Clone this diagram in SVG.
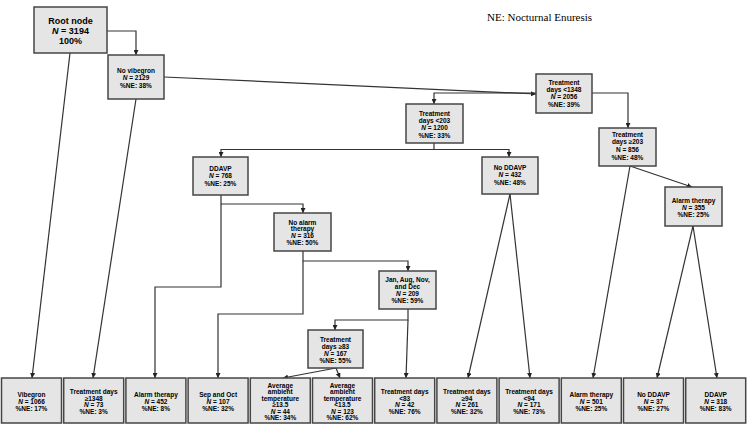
<svg xmlns="http://www.w3.org/2000/svg" width="750" height="425" viewBox="0 0 750 425">
<style>
.box{fill:#e5e5e5;stroke:#454545;stroke-width:1.5}
.t{font-family:"Liberation Sans",Arial,sans-serif;font-weight:bold;font-size:6.5px;text-anchor:middle;fill:#000}
.big{font-size:9px}
.c{fill:none;stroke:#333;stroke-width:1.2}
.i{font-style:italic}
.leg{font-family:"Liberation Serif","Times New Roman",serif;font-size:11px;fill:#000}
</style>
<defs>
<marker id="ah" viewBox="0 0 10 10" refX="10" refY="5" markerWidth="5" markerHeight="5" markerUnits="userSpaceOnUse" orient="auto"><path d="M0,0 L10,5 L0,10 z" fill="#222"/></marker>
</defs>
<rect width="750" height="425" fill="#fff"/>
<text class="leg" x="487" y="21">NE: Nocturnal Enuresis</text>

<g id="connectors" class="c" marker-end="url(#ah)">
<path class="c" marker-end="url(#ah)" d="M107,31 H136 V55"/>
<path class="c" marker-end="url(#ah)" d="M70,53 L32,378"/>
<path class="c" marker-end="url(#ah)" d="M136,99 L93,378"/>
<path class="c" marker-end="url(#ah)" d="M164,77 L536,94"/>
<path class="c" marker-end="url(#ah)" d="M536,93 H434 V104"/>
<path class="c" marker-end="url(#ah)" d="M592,93 H628 V128"/>
<path class="c" marker-end="url(#ah)" d="M434,143 V149.5 H221 V157"/>
<path class="c" marker-end="url(#ah)" d="M434,149.5 H509 V157"/>
<path class="c" marker-end="url(#ah)" d="M221,195 V204 H303 V213"/>
<path class="c" marker-end="url(#ah)" d="M221,204 V287 H155 V378"/>
<path class="c" marker-end="url(#ah)" d="M303,251 V261 H408 V271"/>
<path class="c" marker-end="url(#ah)" d="M303,261 V314 H218 V378"/>
<path class="c" marker-end="url(#ah)" d="M408,309 V320 H335 V330"/>
<path class="c" marker-end="url(#ah)" d="M408,320 L406,378"/>
<path class="c" marker-end="url(#ah)" d="M336,368 L283,378"/>
<path class="c" marker-end="url(#ah)" d="M336,368 L340,378"/>
<path class="c" marker-end="url(#ah)" d="M510,194 L468,378"/>
<path class="c" marker-end="url(#ah)" d="M510,194 L530,378"/>
<path class="c" marker-end="url(#ah)" d="M630,166 L692,187"/>
<path class="c" marker-end="url(#ah)" d="M630,166 L593,378"/>
<path class="c" marker-end="url(#ah)" d="M693,226 L657,378"/>
<path class="c" marker-end="url(#ah)" d="M693,226 L717,378"/>
</g>

<g id="root"><rect class="box" x="34" y="7" width="73" height="46"/>
<text class="t big" x="70.5" y="24">Root node</text>
<text class="t big" x="70.5" y="34"><tspan class="i">N</tspan> = 3194</text>
<text class="t big" x="70.5" y="43.5">100%</text></g>

<g id="no-vibegron"><rect class="box" x="108" y="55" width="56" height="44"/>
<text class="t" x="136" y="72.5">No vibegron</text>
<text class="t" x="136" y="80"><tspan class="i">N</tspan> = 2129</text>
<text class="t" x="136" y="87.5">%NE: 38%</text></g>

<g id="td-lt1348"><rect class="box" x="536" y="74" width="56" height="39"/>
<text class="t" x="564" y="84.5">Treatment</text>
<text class="t" x="564" y="91.5">days &lt;1348</text>
<text class="t" x="564" y="99"><tspan class="i">N</tspan> = 2056</text>
<text class="t" x="564" y="106.5">%NE: 39%</text></g>

<g id="td-lt203"><rect class="box" x="406" y="104" width="57" height="39"/>
<text class="t" x="434.5" y="115.5">Treatment</text>
<text class="t" x="434.5" y="122.5">days &lt;203</text>
<text class="t" x="434.5" y="130"><tspan class="i">N</tspan> = 1200</text>
<text class="t" x="434.5" y="137.5">%NE: 33%</text></g>

<g id="td-ge203"><rect class="box" x="599" y="128" width="57" height="38"/>
<text class="t" x="627.5" y="136.5">Treatment</text>
<text class="t" x="627.5" y="144">days ≥203</text>
<text class="t" x="627.5" y="151.5">N = 856</text>
<text class="t" x="627.5" y="159.5">%NE: 48%</text></g>

<g id="ddavp768"><rect class="box" x="193" y="157" width="55" height="38"/>
<text class="t" x="220.5" y="170.5">DDAVP</text>
<text class="t" x="220.5" y="178"><tspan class="i">N</tspan> = 768</text>
<text class="t" x="220.5" y="185.5">%NE: 25%</text></g>

<g id="noddavp432"><rect class="box" x="482" y="157" width="56" height="37"/>
<text class="t" x="510" y="169.5">No DDAVP</text>
<text class="t" x="510" y="177"><tspan class="i">N</tspan> = 432</text>
<text class="t" x="510" y="184.5">%NE: 48%</text></g>

<g id="noalarm316"><rect class="box" x="274" y="213" width="57" height="38"/>
<text class="t" x="302.5" y="224.5">No alarm</text>
<text class="t" x="302.5" y="231">therapy</text>
<text class="t" x="302.5" y="238"><tspan class="i">N</tspan> = 316</text>
<text class="t" x="302.5" y="245">%NE: 50%</text></g>

<g id="alarm355"><rect class="box" x="665" y="187" width="57" height="39"/>
<text class="t" x="693.5" y="202.5">Alarm therapy</text>
<text class="t" x="693.5" y="209.5"><tspan class="i">N</tspan> = 355</text>
<text class="t" x="693.5" y="217">%NE: 25%</text></g>

<g id="months209"><rect class="box" x="379" y="271" width="57" height="38"/>
<text class="t" x="407.5" y="281.5">Jan, Aug, Nov,</text>
<text class="t" x="407.5" y="288.5">and Dec</text>
<text class="t" x="407.5" y="295.5"><tspan class="i">N</tspan> = 209</text>
<text class="t" x="407.5" y="303">%NE: 59%</text></g>

<g id="td-ge83"><rect class="box" x="308" y="330" width="55" height="38"/>
<text class="t" x="335.5" y="341.5">Treatment</text>
<text class="t" x="335.5" y="348.5">days ≥83</text>
<text class="t" x="335.5" y="355.5"><tspan class="i">N</tspan> = 167</text>
<text class="t" x="335.5" y="363">%NE: 55%</text></g>

<g id="leaf1"><rect class="box" x="1.5" y="378" width="60" height="45"/>
<text class="t" x="31.5" y="397">Vibegron</text>
<text class="t" x="31.5" y="404"><tspan class="i">N</tspan> = 1066</text>
<text class="t" x="31.5" y="411">%NE: 17%</text></g>

<g id="leaf2"><rect class="box" x="63.7" y="378" width="60" height="45"/>
<text class="t" x="93.7" y="394">Treatment days</text>
<text class="t" x="93.7" y="400.5">≥1348</text>
<text class="t" x="93.7" y="407"><tspan class="i">N</tspan> = 73</text>
<text class="t" x="93.7" y="413.5">%NE: 3%</text></g>

<g id="leaf3"><rect class="box" x="125.9" y="378" width="60" height="45"/>
<text class="t" x="155.9" y="397">Alarm therapy</text>
<text class="t" x="155.9" y="404"><tspan class="i">N</tspan> = 452</text>
<text class="t" x="155.9" y="411">%NE: 8%</text></g>

<g id="leaf4"><rect class="box" x="188.1" y="378" width="60" height="45"/>
<text class="t" x="218.1" y="397">Sep and Oct</text>
<text class="t" x="218.1" y="404"><tspan class="i">N</tspan> = 107</text>
<text class="t" x="218.1" y="411">%NE: 32%</text></g>

<g id="leaf5"><rect class="box" x="250.3" y="378" width="60" height="45"/>
<text class="t" x="280.3" y="387.5">Average</text>
<text class="t" x="280.3" y="394">ambient</text>
<text class="t" x="280.3" y="400.5">temperature</text>
<text class="t" x="280.3" y="407">≥13.5</text>
<text class="t" x="280.3" y="413.5"><tspan class="i">N</tspan> = 44</text>
<text class="t" x="280.3" y="420">%NE: 34%</text></g>

<g id="leaf6"><rect class="box" x="312.5" y="378" width="60" height="45"/>
<text class="t" x="342.5" y="387.5">Average</text>
<text class="t" x="342.5" y="394">ambient</text>
<text class="t" x="342.5" y="400.5">temperature</text>
<text class="t" x="342.5" y="407">&lt;13.5</text>
<text class="t" x="342.5" y="413.5"><tspan class="i">N</tspan> = 123</text>
<text class="t" x="342.5" y="420">%NE: 62%</text></g>

<g id="leaf7"><rect class="box" x="374.7" y="378" width="60" height="45"/>
<text class="t" x="404.7" y="394">Treatment days</text>
<text class="t" x="404.7" y="400.5">&lt;83</text>
<text class="t" x="404.7" y="407"><tspan class="i">N</tspan> = 42</text>
<text class="t" x="404.7" y="413.5">%NE: 76%</text></g>

<g id="leaf8"><rect class="box" x="436.9" y="378" width="60" height="45"/>
<text class="t" x="466.9" y="394">Treatment days</text>
<text class="t" x="466.9" y="400.5">≥94</text>
<text class="t" x="466.9" y="407"><tspan class="i">N</tspan> = 261</text>
<text class="t" x="466.9" y="413.5">%NE: 32%</text></g>

<g id="leaf9"><rect class="box" x="499.1" y="378" width="60" height="45"/>
<text class="t" x="529.1" y="394">Treatment days</text>
<text class="t" x="529.1" y="400.5">&lt;94</text>
<text class="t" x="529.1" y="407"><tspan class="i">N</tspan> = 171</text>
<text class="t" x="529.1" y="413.5">%NE: 73%</text></g>

<g id="leaf10"><rect class="box" x="561.3" y="378" width="60" height="45"/>
<text class="t" x="591.3" y="397">Alarm therapy</text>
<text class="t" x="591.3" y="404"><tspan class="i">N</tspan> = 501</text>
<text class="t" x="591.3" y="411">%NE: 25%</text></g>

<g id="leaf11"><rect class="box" x="623.5" y="378" width="60" height="45"/>
<text class="t" x="653.5" y="397">No DDAVP</text>
<text class="t" x="653.5" y="404"><tspan class="i">N</tspan> = 37</text>
<text class="t" x="653.5" y="411">%NE: 27%</text></g>

<g id="leaf12"><rect class="box" x="685.7" y="378" width="60" height="45"/>
<text class="t" x="715.7" y="397">DDAVP</text>
<text class="t" x="715.7" y="404"><tspan class="i">N</tspan> = 318</text>
<text class="t" x="715.7" y="411">%NE: 83%</text></g>
</svg>
